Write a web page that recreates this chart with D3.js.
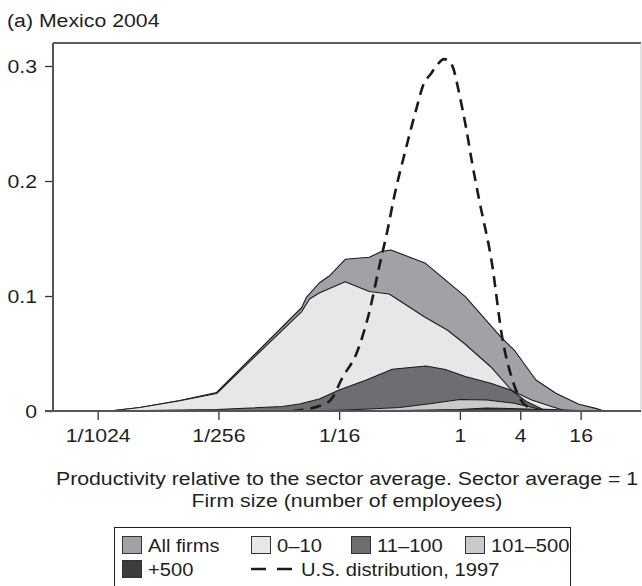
<!DOCTYPE html>
<html>
<head>
<meta charset="utf-8">
<script src="https://cdn.jsdelivr.net/npm/d3@7/dist/d3.min.js"></script>
<style>
  html, body { margin: 0; padding: 0; background: #fff; }
  svg { display: block; font-family: "Liberation Sans", Arial, Helvetica, sans-serif; }
</style>
</head>
<body>
<svg id="chart" width="642" height="586"></svg>
<script>
// Axis position units: ticks sit at 0,2,4,6,7,8 on the productivity axis
const tickPos    = [0, 2, 4, 6, 7, 8];
const tickLabels = ["1/1024", "1/256", "1/16", "1", "4", "16"];
const yTicks     = [0, 0.1, 0.2, 0.3];
const yTickLabels = ["0", "0.1", "0.2", "0.3"];

// Density of firms by productivity, [axis position, share]
const allFirms = [[0.20,0],[0.70,0.0031],[1.36,0.0090],[1.97,0.0161],[3.38,0.0900],[3.46,0.0991],
  [3.67,0.1113],[3.81,0.1165],[3.84,0.1174],[4.10,0.1319],[4.50,0.1337],[4.70,0.1387],[4.86,0.1400],
  [5.43,0.1284],[6.09,0.0994],[6.68,0.0643],[6.90,0.0530],[7.26,0.0270],[7.59,0.0154],[7.97,0.0058],
  [8.25,0.0023],[8.39,0]];
const size0to10 = [[0.20,0],[0.70,0.0030],[1.36,0.0089],[1.97,0.0152],[3.38,0.0865],[3.51,0.0974],
  [3.67,0.1026],[4.10,0.1124],[4.50,0.1039],[4.83,0.1017],[5.41,0.0820],[5.79,0.0704],[6.07,0.0589],
  [6.51,0.0385],[6.86,0.0178],[7.19,0.0096],[7.53,0.0037],[7.76,0]];
const size11to100 = [[0.20,0],[1.97,0.0013],[3.06,0.0039],[3.34,0.0061],[3.67,0.0104],[4.00,0.0183],
  [4.45,0.0270],[4.88,0.0363],[5.44,0.0391],[5.76,0.0361],[6.09,0.0300],[6.51,0.0241],[6.86,0.0178],
  [7.10,0.0083],[7.43,0]];
const size101to500 = [[1.97,0],[3.84,0.0004],[4.42,0.0015],[5.00,0.0030],[5.53,0.0065],[6.00,0.0100],
  [6.45,0.0096],[6.90,0.0067],[7.31,0.0017],[7.97,0.0004],[8.40,0]];
const size500plus = [[3.34,0],[5.00,0.0004],[5.99,0.0013],[6.44,0.0026],[6.82,0.0022],[7.39,0.0013],[7.64,0]];
const usDist1997 = [[3.23,0],[3.67,0.0043],[3.86,0.0096],[4.06,0.0296],[4.29,0.0504],[4.50,0.0861],
  [4.67,0.1270],[4.80,0.1570],[4.91,0.1860],[5.10,0.2270],[5.28,0.2630],[5.39,0.2830],[5.53,0.2940],
  [5.61,0.3000],[5.74,0.3060],[5.84,0.3035],[5.89,0.2980],[5.99,0.2757],[6.10,0.2470],[6.20,0.2165],
  [6.32,0.1835],[6.53,0.1287],[6.70,0.0643],[6.87,0.0270],[6.98,0.0122],[7.15,0.0026],[7.31,0]];

const seriesNames  = ["All firms", "0\u201310", "11\u2013100", "101\u2013500", "+500"];
const seriesColors = ["#a1a2a5", "#e6e7e9", "#6d6e71", "#c9cacc", "#3c3c3e"];
const seriesData   = [allFirms, size0to10, size11to100, size101to500, size500plus];

const svg = d3.select("#chart");
const SX = 1.12;                 // horizontal stretch of the lettering
const plot = { left: 53, right: 641, top: 43, bottom: 411 };

const x = d3.scaleLinear().domain([-0.74, 9.0]).range([plot.left, plot.right]);
const y = d3.scaleLinear().domain([0, 0.32]).range([plot.bottom, plot.top]);

function label(g, px, py, str, anchor, size) {
  g.append("g").attr("transform", `translate(${px},${py}) scale(${SX},1)`)
    .append("text").attr("text-anchor", anchor).attr("font-size", size)
    .attr("fill", "#231f20").text(str);
}

// title
label(svg, 7, 27, "(a) Mexico 2004", "start", 19);

// overlapping density areas, drawn in legend order
const area = d3.area().x(d => x(d[0])).y0(y(0)).y1(d => y(d[1]));
seriesData.forEach((s, i) => {
  svg.append("path").datum(s).attr("d", area)
    .attr("fill", seriesColors[i]).attr("stroke", "#1a1a1a")
    .attr("stroke-width", 1.1).attr("stroke-linejoin", "round");
});

// U.S. reference distribution
const line = d3.line().x(d => x(d[0])).y(d => y(d[1])).curve(d3.curveMonotoneX);
svg.append("path").datum(usDist1997).attr("d", line)
  .attr("fill", "none").attr("stroke", "#1a1a1a").attr("stroke-width", 2.6)
  .attr("stroke-dasharray", "11,7");

// frame
svg.append("line").attr("x1", plot.left).attr("x2", plot.right).attr("y1", plot.top).attr("y2", plot.top)
  .attr("stroke", "#2b2b2b").attr("stroke-width", 1.5);
svg.append("line").attr("x1", plot.right).attr("x2", plot.right).attr("y1", plot.top).attr("y2", plot.bottom)
  .attr("stroke", "#c4c4c4").attr("stroke-width", 1);

// axes
const xAxis = d3.axisBottom(x).tickValues(tickPos).tickSize(9).tickFormat((d, i) => tickLabels[i]);
const gx = svg.append("g").attr("transform", `translate(0,${plot.bottom})`).call(xAxis);
gx.select(".domain").remove();
gx.selectAll(".tick line").attr("stroke", "#333").attr("stroke-width", 1.3);
gx.selectAll(".tick text").remove();
gx.selectAll(".tick").each(function(d, i) {
  label(d3.select(this), 0, 31, tickLabels[i], "middle", 19);
});

const yAxis = d3.axisLeft(y).tickValues(yTicks).tickSize(8).tickFormat((d, i) => yTickLabels[i]);
const gy = svg.append("g").attr("transform", `translate(${plot.left},0)`).call(yAxis);
gy.select(".domain").remove();
gy.selectAll(".tick line").attr("stroke", "#333").attr("stroke-width", 1.3);
gy.selectAll(".tick text").remove();
gy.selectAll(".tick").each(function(d, i) {
  label(d3.select(this), -16, 6.8, yTickLabels[i], "end", 19);
});

svg.append("line").attr("x1", plot.left).attr("x2", plot.left).attr("y1", plot.top).attr("y2", plot.bottom)
  .attr("stroke", "#555").attr("stroke-width", 2);
svg.append("line").attr("x1", plot.left - 8).attr("x2", plot.right).attr("y1", plot.bottom).attr("y2", plot.bottom)
  .attr("stroke", "#555").attr("stroke-width", 2);

// axis titles
label(svg, 347, 485, "Productivity relative to the sector average. Sector average = 1", "middle", 19);
label(svg, 347, 507, "Firm size (number of employees)", "middle", 19);

// legend
const lg = svg.append("g");
lg.append("rect").attr("x", 114.5).attr("y", 527.5).attr("width", 456).attr("height", 80)
  .attr("fill", "#fff").attr("stroke", "#231f20").attr("stroke-width", 1);
const legendItems = [
  { kind: "box", i: 0, x: 122, row: 0 },
  { kind: "box", i: 1, x: 251, row: 0 },
  { kind: "box", i: 2, x: 351, row: 0 },
  { kind: "box", i: 3, x: 465, row: 0 },
  { kind: "box", i: 4, x: 122, row: 1 },
  { kind: "dash", x: 251, row: 1, text: "U.S. distribution, 1997" }
];
const rowY = [545, 569];
legendItems.forEach(it => {
  const cy = rowY[it.row];
  if (it.kind === "box") {
    lg.append("rect").attr("x", it.x + 0.5).attr("y", cy - 8.5).attr("width", 19).attr("height", 17)
      .attr("fill", seriesColors[it.i]).attr("stroke", "#333").attr("stroke-width", 1);
    label(lg, it.x + 26, cy + 6.5, seriesNames[it.i], "start", 18);
  } else {
    lg.append("line").attr("x1", it.x).attr("x2", it.x + 41).attr("y1", cy).attr("y2", cy)
      .attr("stroke", "#1a1a1a").attr("stroke-width", 2.4).attr("stroke-dasharray", "15,11");
    label(lg, it.x + 50, cy + 6.5, it.text, "start", 18);
  }
});
</script>
</body>
</html>
